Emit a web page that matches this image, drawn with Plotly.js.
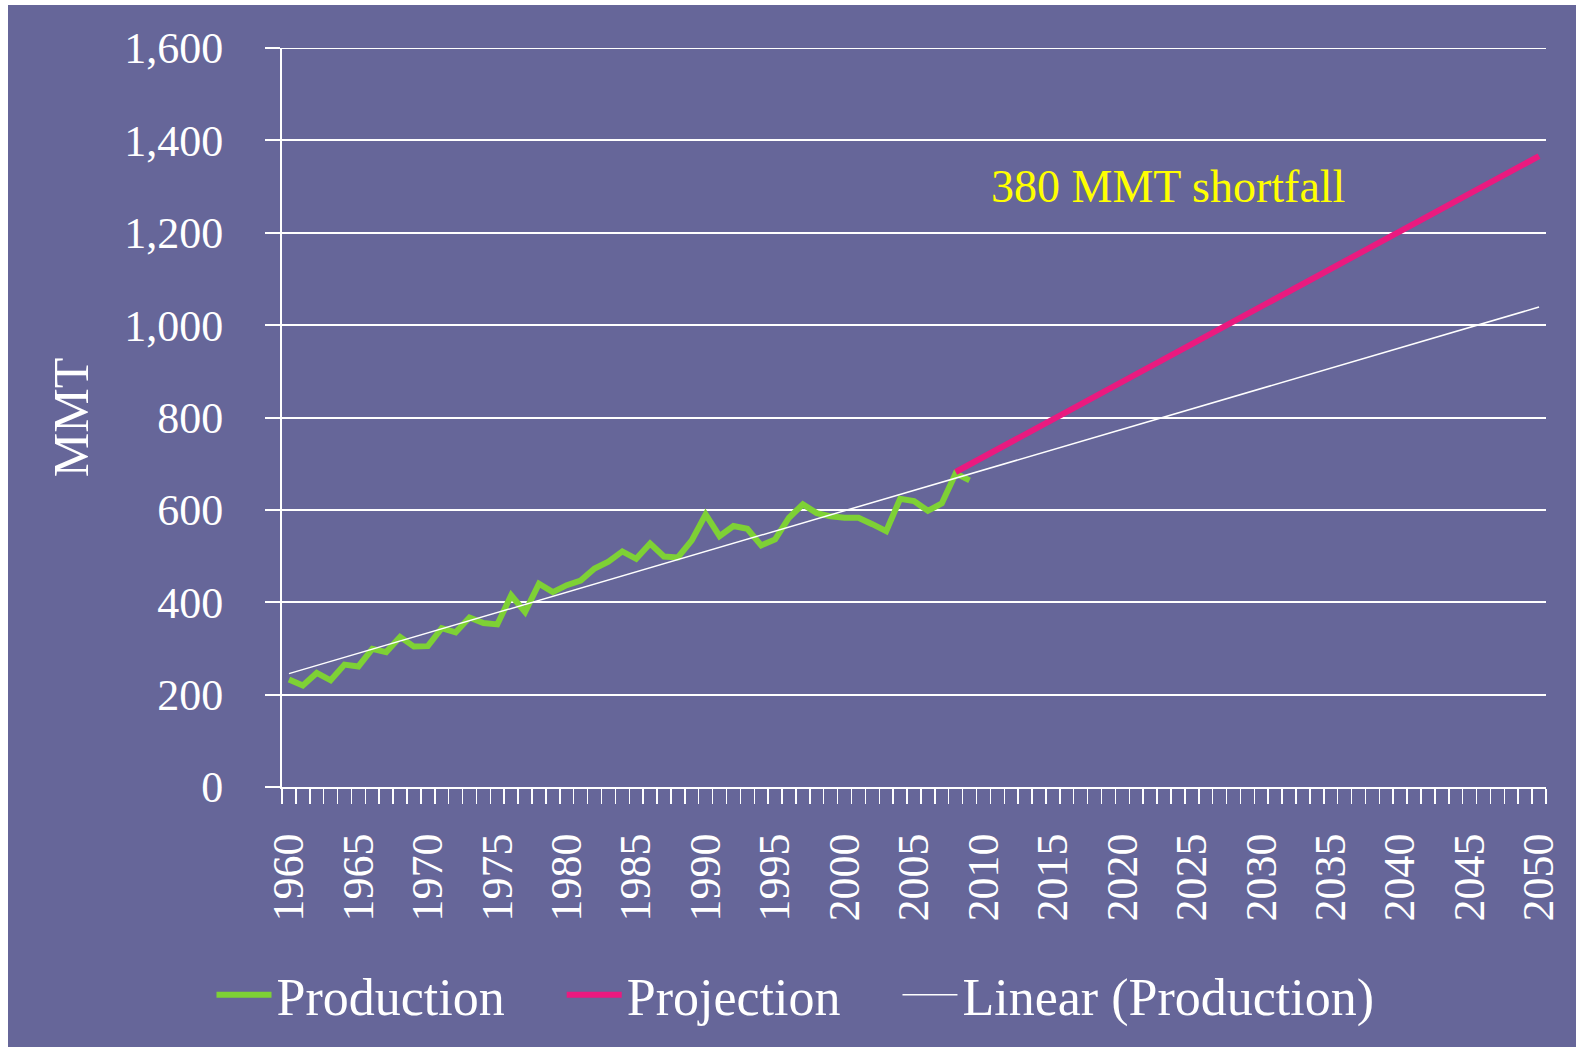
<!DOCTYPE html>
<html><head><meta charset="utf-8">
<script src="https://cdn.plot.ly/plotly-3.0.1.min.js"></script>
<style>html,body{margin:0;padding:0;background:#ffffff;overflow:hidden}</style>
</head><body>
<div id="chart" style="width:1579px;height:1049px"></div>
<script>
// ---- data ----
const years = [1960,1961,1962,1963,1964,1965,1966,1967,1968,1969,
               1970,1971,1972,1973,1974,1975,1976,1977,1978,1979,
               1980,1981,1982,1983,1984,1985,1986,1987,1988,1989,
               1990,1991,1992,1993,1994,1995,1996,1997,1998,1999,
               2000,2001,2002,2003,2004,2005,2006,2007,2008,2009];
const production = [233,220,247,231,265,261,299,292,325,304,
                    305,344,335,367,355,352,415,379,440,422,
                    437,447,473,488,510,494,527,499,497,534,
                    590,543,565,559,523,536,583,612,593,586,
                    583,583,569,554,624,619,598,614,679,664];
const projectionYears = [2008, 2050];
const projection = [682, 1366];
const tickYears = [1960,1965,1970,1975,1980,1985,1990,1995,2000,2005,
                   2010,2015,2020,2025,2030,2035,2040,2045,2050];
const yRange = [0, 1600];
const trendYears = [1960, 2050];
const annotationText = "380 MMT shortfall";

// linear trend (least squares) of production, extended to 2050
const n = years.length;
const mx = years.reduce((a,b)=>a+b,0)/n;
const my = production.reduce((a,b)=>a+b,0)/n;
let sxy = 0, sxx = 0;
for (let i=0;i<n;i++){ sxy += (years[i]-mx)*(production[i]-my); sxx += (years[i]-mx)*(years[i]-mx); }
const slope = sxy/sxx, icpt = my - slope*mx;
const trend = trendYears.map(x => icpt + slope*x);

// ---- layout geometry ----
const W = 1579, H = 1049;
const L = 282, R = 33, T = 48, B = 262;
const pw = W - L - R, ph = H - T - B;
const px2paperX = p => (p - L)/pw;
const px2paperY = p => (H - B - p)/ph;

const purple = '#666699';
const serif = '"Liberation Serif", "Times New Roman", serif';
const sp = '\u00a0\u00a0\u00a0\u00a0';

const traces = [
  {x: years, y: production, type:'scatter', mode:'lines', name:'Production' + sp,
   line:{color:'#7ed135', width:6}},
  {x: projectionYears, y: projection, type:'scatter', mode:'lines', name:'Projection' + sp,
   line:{color:'#ea1a7f', width:6}},
  {x: trendYears, y: trend, type:'scatter', mode:'lines', name:'Linear (Production)',
   line:{color:'#ffffff', width:1.5}}
];

const layout = {
  width: W, height: H,
  margin: {l:L, r:R, t:T, b:B, pad:0},
  paper_bgcolor: '#ffffff',
  plot_bgcolor: purple,
  font: {family: serif, color:'#ffffff'},
  showlegend: true,
  legend: {orientation:'h', xref:'container', yref:'container', x:0.5 + 6/W, xanchor:'center',
           y: 1 - 995/H, yanchor:'middle', font:{family:serif, size:52, color:'#ffffff'},
           itemwidth: 55, bgcolor:'rgba(0,0,0,0)', traceorder:'normal'},
  xaxis: {
    type:'linear', range:[1959.5, 2050.5], fixedrange:true,
    tickmode:'array', tickvals: tickYears, ticktext: tickYears.map(String),
    ticks:'', tickangle:-90, ticklabelstandoff: 27,
    tickfont:{family:serif, size:44, color:'#ffffff'},
    showgrid:false, zeroline:false,
    showline:true, linecolor:'#ffffff', linewidth:2,
    minor:{tickmode:'linear', tick0:1959.5, dtick:1, ticks:'outside', ticklen:15,
           tickwidth:1.5, tickcolor:'#ffffff', showgrid:false}
  },
  yaxis: {
    range: yRange, tickmode:'linear', dtick:200, tick0:0, tickformat:',', fixedrange:true,
    ticks:'outside', ticklen:15, tickwidth:2, tickcolor:'#ffffff',
    ticklabelstandoff: 33,
    tickfont:{family:serif, size:44, color:'#ffffff'},
    showgrid:true, gridcolor:'#ffffff', gridwidth:2, zeroline:false,
    showline:true, linecolor:'#ffffff', linewidth:2,
    title:{text:'MMT', font:{family:serif, size:50, color:'#ffffff'}, standoff: 20}
  },
  shapes: [
    {type:'rect', xref:'paper', yref:'paper', layer:'below',
     x0: px2paperX(8), x1: px2paperX(1576), y0: px2paperY(1047), y1: px2paperY(5),
     fillcolor: purple, line:{width:0}},
    // top gridline (plotly drops the gridline on the range edge)
    {type:'line', xref:'paper', yref:'y', layer:'below',
     x0: 0, x1: 1, y0: yRange[1], y1: yRange[1],
     line:{color:'#ffffff', width:2}}
  ],
  annotations: [
    {x: 2010.4, y: 1301, xref:'x', yref:'y', xanchor:'left', yanchor:'middle',
     text: annotationText, showarrow:false,
     font:{family:serif, size:46, color:'#ffff00'}}
  ]
};

Plotly.newPlot('chart', traces, layout, {displayModeBar:false, staticPlot:true});
</script>
</body></html>
